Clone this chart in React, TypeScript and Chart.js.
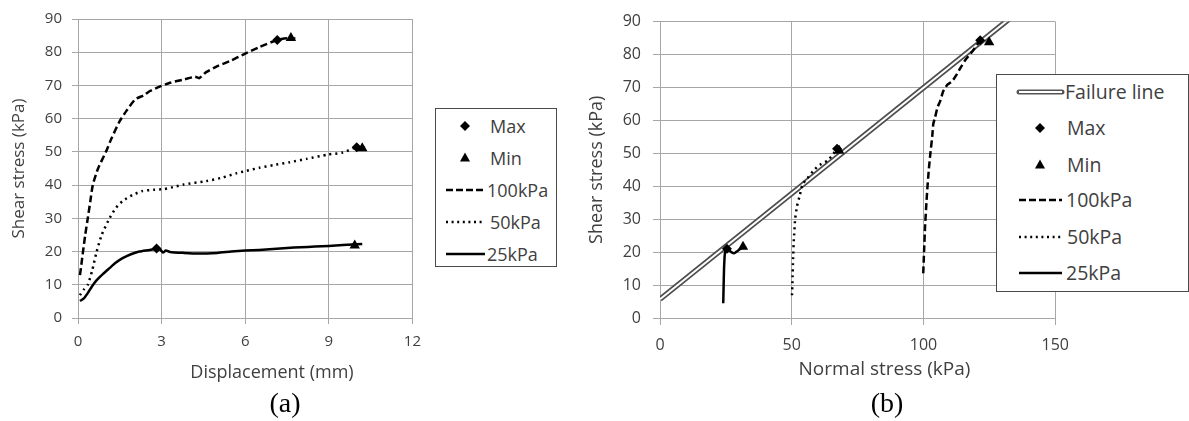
import React, { useEffect, useRef } from "react";
import { Chart, registerables } from "chart.js";

Chart.register(...registerables);

// ---------- (a) Shear stress vs horizontal displacement ----------
const dispTicks = [0, 3, 6, 9, 12];
const shearTicks = [0, 10, 20, 30, 40, 50, 60, 70, 80, 90];

const disp100 = [0.07, 0.12, 0.18, 0.26, 0.35, 0.44, 0.53, 0.72, 1.0, 1.2, 1.48, 1.75, 2.05, 2.35, 2.6, 2.95, 3.3, 3.8, 4.2, 4.35, 4.6, 5.0, 5.5, 6.0, 6.5, 7.15, 7.5, 7.8];
const tau100 = [12.9, 16, 20, 25, 30, 35, 40, 45, 50, 54, 59, 62.5, 65.8, 67, 68.4, 69.7, 70.8, 71.8, 72.6, 72.2, 74, 75.8, 77.5, 79.6, 81.5, 83.7, 84.2, 84.1];

const disp50 = [0.07, 0.2, 0.35, 0.5, 0.67, 0.85, 1.13, 1.35, 1.6, 1.95, 2.3, 2.7, 3.1, 3.5, 3.8, 4.6, 5.2, 5.7, 6.05, 6.5, 7.0, 7.6, 8.2, 8.97, 9.5, 10.0, 10.3];
const tau50 = [6.9, 8.5, 10, 14, 20, 25, 30, 33, 35.2, 37, 38.2, 38.6, 38.8, 39.6, 40.2, 41.2, 42.3, 43.6, 44.3, 45.2, 46, 46.9, 47.9, 49.2, 49.8, 51.4, 51.3];

const disp25 = [0.07, 0.2, 0.35, 0.5, 0.67, 0.9, 1.13, 1.35, 1.6, 1.9, 2.2, 2.5, 2.82, 2.95, 3.05, 3.15, 3.3, 3.8, 4.3, 5.0, 5.5, 6.0, 6.5, 7.0, 7.5, 8.0, 8.5, 9.0, 9.5, 10.2];
const tau25 = [5.1, 5.8, 7.5, 9.5, 11.4, 13.3, 15, 16.6, 18, 19.2, 20, 20.4, 20.8, 20.6, 19.7, 20.3, 19.9, 19.6, 19.4, 19.6, 20, 20.3, 20.5, 20.8, 21.1, 21.3, 21.5, 21.7, 22, 22.3];

const maxDisp = [7.15, 10.0, 2.82];
const maxTauA = [83.7, 51.4, 20.9];
const minDisp = [7.64, 10.2, 9.93];
const minTauA = [84.3, 51.1, 21.8];

// ---------- (b) Shear stress vs normal stress ----------
const normalTicks = [0, 50, 100, 150];

const sigma100 = [99.9, 100.2, 100.6, 101.1, 101.4, 102, 102.6, 103.3, 103.7, 104.4, 105.3, 106.3, 107.5, 109, 110.9, 112.5, 113.9, 116, 118.5, 120.8, 121.5, 123.5];
const tauB100 = [13.6, 20, 28, 35, 38.7, 45, 50, 55, 58.9, 61, 64, 65.8, 68.9, 70.8, 71.9, 73.8, 75.8, 78.5, 80.9, 83.5, 84.2, 84];

const sigma50 = [50.1, 50.3, 50.5, 50.8, 51.3, 52, 53.1, 54, 56, 58, 60, 63.4, 65.5, 67.2, 68];
const tauB50 = [6.9, 12, 18, 24, 30.2, 34, 37.4, 40.5, 42.5, 44.5, 46.2, 47.7, 49.5, 51.4, 51];

const sigma25 = [24.0, 24.15, 24.3, 24.5, 24.8, 25.4, 26.2, 27.2, 28.3, 29.3, 30.5, 31.8];
const tauB25 = [4.5, 10, 15, 18.5, 20.3, 21.0, 20.6, 19.9, 19.7, 20.3, 21, 21.7];

const maxSigma = [121.5, 67.2, 25.4];
const maxTauB = [84.3, 51.4, 21.0];
const minSigma = [124.9, 68, 31.5];
const minTauB = [83.7, 50.8, 21.6];

// Mohr-Coulomb failure envelope (end points)
const failureSigma = [0, 140];
const failureTau = [5.7, 95.6];

const SANS = '"Open Sans", "Noto Sans", sans-serif';
const SERIF = '"Liberation Serif", "DejaVu Serif", serif';
const TEXT = "#404040";
const GRID = "#a6a6a6";

const pts = (xs: number[], ys: number[]) => xs.map((x, i) => ({ x, y: ys[i] }));

const curve = (label: string, xs: number[], ys: number[], dash: number[], order: number, tension = 0.2) => ({
  label,
  data: pts(xs, ys),
  showLine: true,
  borderColor: "#000",
  backgroundColor: "#000",
  borderWidth: 2.5,
  borderDash: dash,
  pointRadius: 0,
  tension,
  fill: false,
  order,
});

const markers = (label: string, xs: number[], ys: number[], style: string, radius: number, order: number) => ({
  label,
  data: pts(xs, ys),
  showLine: false,
  pointStyle: style,
  pointRadius: radius,
  backgroundColor: "#000",
  borderColor: "#000",
  borderWidth: 0,
  order,
});

interface AxisSpec {
  min: number;
  max: number;
  ticks: number[];
}

interface AxisLook {
  pad: { left: number; top: number; right: number };
  yWidth: number;
  yTitle: string;
  yTitleSize: number;
  tickSize: number;
  tickLen: number;
  yTickPad: number;
  xTickPad: number;
}

function buildOptions(xa: AxisSpec, ya: AxisSpec, look: AxisLook) {
  const tickFont = { family: SANS, size: look.tickSize };
  return {
    responsive: false,
    animation: false as const,
    layout: { padding: { left: look.pad.left, top: look.pad.top, right: look.pad.right, bottom: 0 } },
    plugins: { legend: { display: false }, tooltip: { enabled: false } },
    scales: {
      x: {
        type: "linear" as const,
        min: xa.min,
        max: xa.max,
        afterBuildTicks: (s: any) => {
          s.ticks = xa.ticks.map((v) => ({ value: v }));
        },
        ticks: { font: tickFont, color: TEXT, padding: look.xTickPad, maxRotation: 0 },
        grid: { color: GRID, tickLength: look.tickLen, lineWidth: 1 },
        border: { color: GRID },
        afterFit: (s: any) => {
          s.height = 66;
        },
      },
      y: {
        type: "linear" as const,
        min: ya.min,
        max: ya.max,
        afterBuildTicks: (s: any) => {
          s.ticks = ya.ticks.map((v) => ({ value: v }));
        },
        ticks: { font: tickFont, color: TEXT, padding: look.yTickPad },
        grid: { color: GRID, tickLength: look.tickLen, lineWidth: 1 },
        border: { color: GRID },
        title: {
          display: true,
          text: look.yTitle,
          color: TEXT,
          font: { family: SANS, size: look.yTitleSize },
          padding: { top: 0, bottom: 0 },
        },
        afterFit: (s: any) => {
          s.width = look.yWidth;
        },
      },
    },
  };
}

function ChartCanvas({ left, top, width, height, config }: any) {
  const ref = useRef<HTMLCanvasElement | null>(null);
  useEffect(() => {
    if (!ref.current) return;
    const chart = new Chart(ref.current, config);
    return () => chart.destroy();
  }, []);
  return (
    <canvas
      ref={ref}
      width={width}
      height={height}
      style={{ position: "absolute", left, top, width, height }}
    />
  );
}

function Label({ text, cx, cy, size, family = SANS, color = TEXT }: any) {
  return (
    <div
      style={{
        position: "absolute",
        left: cx,
        top: cy,
        transform: "translate(-50%, -50%)",
        whiteSpace: "nowrap",
        fontFamily: family,
        fontSize: size,
        lineHeight: 1,
        color,
      }}
    >
      {text}
    </div>
  );
}

type Sample = "diamond" | "triangle" | "dash" | "dot" | "solid" | "double";

function SampleIcon({ kind, x1, x2, cy, mx }: { kind: Sample; x1: number; x2: number; cy: number; mx: number }) {
  const w = x2 - x1;
  const h = 14;
  const svgStyle: React.CSSProperties = { position: "absolute", left: x1, top: cy - h / 2, overflow: "visible" };
  const mid = h / 2;
  const m = mx - x1;
  let body: React.ReactNode = null;
  if (kind === "diamond") {
    body = <polygon points={`${m},${mid - 5} ${m + 5},${mid} ${m},${mid + 5} ${m - 5},${mid}`} fill="#000" />;
  } else if (kind === "triangle") {
    body = <polygon points={`${m},${mid - 5.5} ${m + 5},${mid + 3.5} ${m - 5},${mid + 3.5}`} fill="#000" />;
  } else if (kind === "dash") {
    body = <line x1={0} y1={mid} x2={w} y2={mid} stroke="#000" strokeWidth={2.5} strokeDasharray="7 3" />;
  } else if (kind === "dot") {
    body = <line x1={0} y1={mid} x2={w} y2={mid} stroke="#000" strokeWidth={2.5} strokeDasharray="2 3.6" />;
  } else if (kind === "solid") {
    body = <line x1={0} y1={mid} x2={w} y2={mid} stroke="#000" strokeWidth={2.5} />;
  } else {
    body = (
      <>
        <line x1={0} y1={mid} x2={w} y2={mid} stroke="#555" strokeWidth={5} strokeLinecap="round" />
        <line x1={0} y1={mid} x2={w} y2={mid} stroke="#fff" strokeWidth={2} />
      </>
    );
  }
  return (
    <svg width={w} height={h} style={svgStyle}>
      {body}
    </svg>
  );
}

interface LegendRow {
  kind: Sample;
  text: string;
  y: number;
  tx: number;
}

function LegendBox({ box, rows, x1, x2, mx, size }: any) {
  return (
    <>
      <div
        style={{
          position: "absolute",
          left: box.left,
          top: box.top,
          width: box.width,
          height: box.height,
          boxSizing: "border-box",
          border: "1px solid #4a4a4a",
          background: "#fff",
        }}
      />
      {rows.map((r: LegendRow, i: number) => (
        <React.Fragment key={i}>
          <SampleIcon kind={r.kind} x1={x1} x2={x2} cy={r.y} mx={mx} />
          <div
            style={{
              position: "absolute",
              left: r.tx,
              top: r.y,
              transform: "translateY(-50%)",
              whiteSpace: "nowrap",
              fontFamily: SANS,
              fontSize: size,
              lineHeight: 1,
              color: TEXT,
            }}
          >
            {r.text}
          </div>
        </React.Fragment>
      ))}
    </>
  );
}

export default function App() {
  const configA = {
    type: "scatter" as const,
    data: {
      datasets: [
        curve("25kPa", disp25, tau25, [], 1),
        curve("50kPa", disp50, tau50, [2, 4], 2),
        curve("100kPa", disp100, tau100, [7, 3.5], 3),
        markers("Min", minDisp, minTauA, "triangle", 6, 4),
        markers("Max", maxDisp, maxTauA, "rectRot", 5, 5),
      ],
    },
    options: buildOptions(
      { min: 0, max: 12, ticks: dispTicks },
      { min: 0, max: 90, ticks: shearTicks },
      {
        pad: { left: 9, top: 17, right: 11 },
        yWidth: 69,
        yTitle: "Shear stress (kPa)",
        yTitleSize: 17,
        tickSize: 15,
        tickLen: 6,
        yTickPad: 10,
        xTickPad: 9,
      }
    ),
  };

  const configB = {
    type: "scatter" as const,
    data: {
      datasets: [
        curve("25kPa", sigma25, tauB25, [], 1, 0.1),
        curve("50kPa", sigma50, tauB50, [2, 4], 2, 0.1),
        curve("100kPa", sigma100, tauB100, [7, 3.5], 3, 0.1),
        markers("Min", minSigma, minTauB, "triangle", 6, 4),
        markers("Max", maxSigma, maxTauB, "rectRot", 5, 5),
        { ...curve("Failure line", failureSigma, failureTau, [], 6, 0), borderColor: "#fff", borderWidth: 2 },
        { ...curve("Failure line", failureSigma, failureTau, [], 7, 0), borderColor: "#4d4d4d", borderWidth: 5.5 },
      ],
    },
    options: buildOptions(
      { min: 0, max: 150, ticks: normalTicks },
      { min: 0, max: 90, ticks: shearTicks },
      {
        pad: { left: 26, top: 20, right: 24 },
        yWidth: 74,
        yTitle: "Shear stress (kPa)",
        yTitleSize: 18,
        tickSize: 16,
        tickLen: 7,
        yTickPad: 12,
        xTickPad: 11,
      }
    ),
  };

  const rowsA: LegendRow[] = [
    { kind: "diamond", text: "Max", y: 125.5, tx: 490 },
    { kind: "triangle", text: "Min", y: 157.5, tx: 490 },
    { kind: "dash", text: "100kPa", y: 190, tx: 487 },
    { kind: "dot", text: "50kPa", y: 222, tx: 490 },
    { kind: "solid", text: "25kPa", y: 254, tx: 487 },
  ];

  const rowsB: LegendRow[] = [
    { kind: "double", text: "Failure line", y: 92, tx: 1065 },
    { kind: "diamond", text: "Max", y: 128, tx: 1067 },
    { kind: "triangle", text: "Min", y: 165, tx: 1067 },
    { kind: "dash", text: "100kPa", y: 200, tx: 1066 },
    { kind: "dot", text: "50kPa", y: 237, tx: 1067 },
    { kind: "solid", text: "25kPa", y: 273, tx: 1066 },
  ];

  return (
    <div style={{ position: "absolute", left: 0, top: 0, width: 1189, height: 421, background: "#fff", overflow: "hidden" }}>
      <ChartCanvas left={0} top={0} width={430} height={384} config={configA} />
      <ChartCanvas left={560} top={0} width={520} height={384} config={configB} />

      <Label text="Displacement (mm)" cx={272} cy={371} size={18} />
      <Label text="Normal stress (kPa)" cx={884.5} cy={368} size={19} />
      <Label text="(a)" cx={285} cy={403} size={28} family={SERIF} color="#000" />
      <Label text="(b)" cx={887} cy={403} size={28} family={SERIF} color="#000" />

      <LegendBox box={{ left: 435, top: 108, width: 122, height: 159 }} rows={rowsA} x1={446} x2={485} mx={465} size={18} />
      <LegendBox box={{ left: 996, top: 74, width: 193, height: 218 }} rows={rowsB} x1={1019} x2={1062} mx={1040} size={19.5} />
    </div>
  );
}
